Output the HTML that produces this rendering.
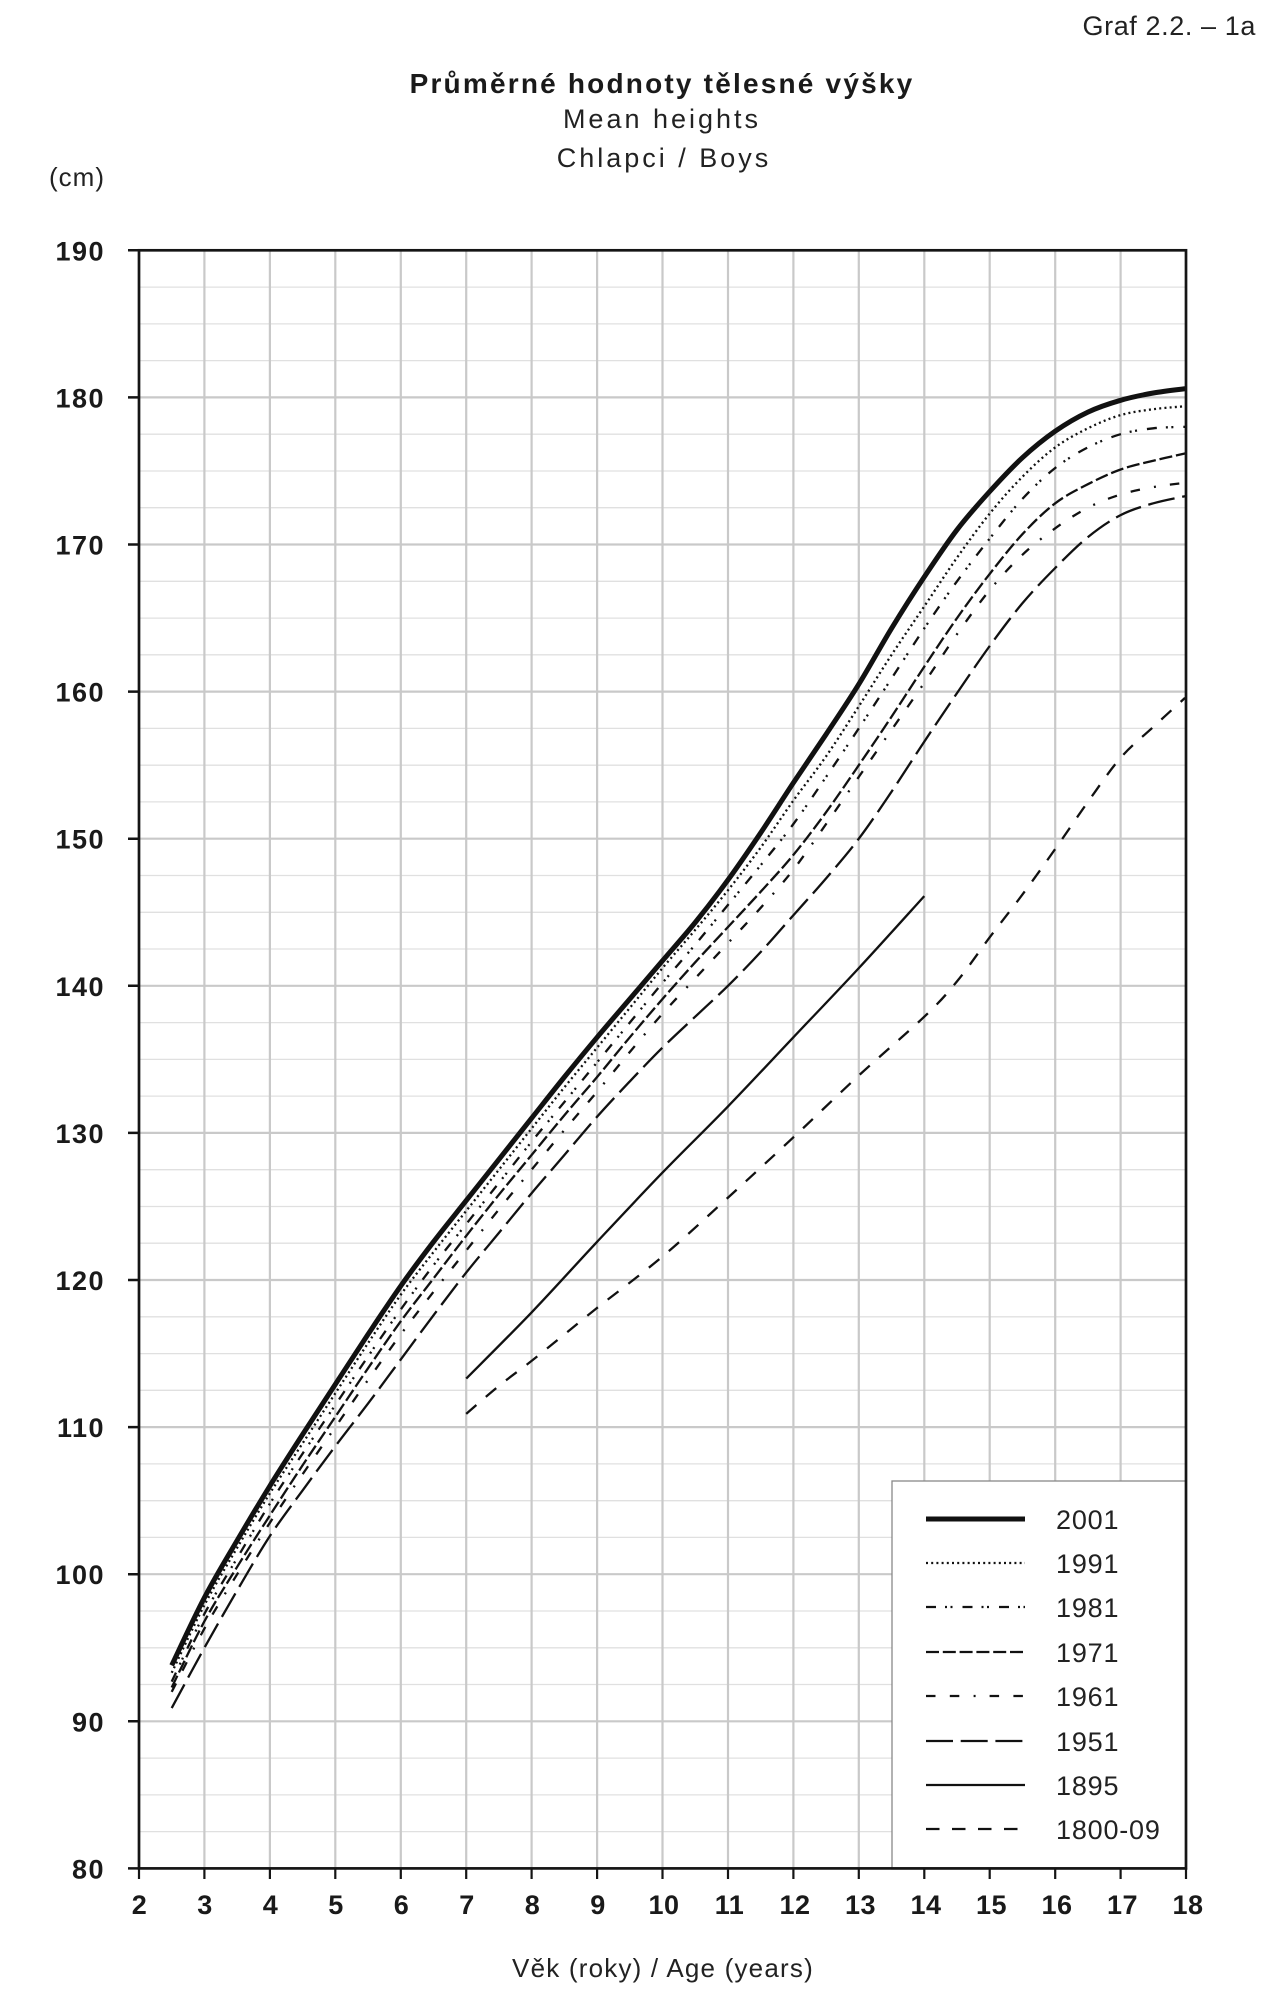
<!DOCTYPE html>
<html><head><meta charset="utf-8"><style>
html,body{margin:0;padding:0;background:#fff;}
svg{display:block;}
text{font-family:"Liberation Sans",Arial,sans-serif;fill:#1a1a1a;}
.yl{font-size:27px;font-weight:bold;text-anchor:end;letter-spacing:1.5px;}
.xl{font-size:27px;font-weight:bold;text-anchor:middle;letter-spacing:0.5px;}
.lg{font-size:27px;letter-spacing:0.8px;fill:#222;}
.c{fill:none;stroke:#111;stroke-width:2.3;stroke-linejoin:round;}
</style></head><body>
<svg id="chart" width="1280" height="2000" viewBox="0 0 1280 2000" xmlns="http://www.w3.org/2000/svg">
<rect width="1280" height="2000" fill="#fff"/>
<!-- titles -->
<text x="1256" y="35" style="font-size:27px;text-anchor:end;letter-spacing:0.6px;fill:#222">Graf 2.2. – 1a</text>
<text x="662" y="93" style="font-size:28px;font-weight:bold;text-anchor:middle;letter-spacing:2.2px">Průměrné hodnoty tělesné výšky</text>
<text x="662" y="128" style="font-size:27px;text-anchor:middle;letter-spacing:3px;fill:#222">Mean heights</text>
<text x="664" y="167" style="font-size:27px;text-anchor:middle;letter-spacing:3px;fill:#222">Chlapci / Boys</text>
<text x="49" y="186" style="font-size:26px;letter-spacing:1px;fill:#222">(cm)</text>

<!-- minor gridlines -->
<path stroke="#e0e0e0" stroke-width="1.3" fill="none" d="
M139 287.1H1186M139 323.9H1186M139 360.6H1186
M139 434.2H1186M139 471.0H1186M139 507.7H1186
M139 581.3H1186M139 618.1H1186M139 654.8H1186
M139 728.4H1186M139 765.2H1186M139 801.9H1186
M139 875.5H1186M139 912.3H1186M139 949.0H1186
M139 1022.6H1186M139 1059.4H1186M139 1096.1H1186
M139 1169.7H1186M139 1206.5H1186M139 1243.2H1186
M139 1316.8H1186M139 1353.6H1186M139 1390.3H1186
M139 1463.9H1186M139 1500.7H1186M139 1537.4H1186
M139 1611.0H1186M139 1647.8H1186M139 1684.5H1186
M139 1758.1H1186M139 1794.9H1186M139 1831.6H1186"/>
<!-- major horizontal gridlines -->
<path stroke="#c9c9c9" stroke-width="2.2" fill="none" d="
M139 397.4H1186M139 544.5H1186M139 691.6H1186M139 838.7H1186M139 985.8H1186
M139 1132.9H1186M139 1280.0H1186M139 1427.1H1186M139 1574.2H1186M139 1721.3H1186"/>
<!-- vertical gridlines -->
<path stroke="#c9c9c9" stroke-width="2.2" fill="none" d="
M204.4 250V1868M269.9 250V1868M335.3 250V1868M400.8 250V1868M466.2 250V1868
M531.6 250V1868M597.1 250V1868M662.5 250V1868M728.0 250V1868M793.4 250V1868
M858.8 250V1868M924.3 250V1868M989.7 250V1868M1055.2 250V1868M1120.6 250V1868"/>

<!-- curves -->
<!-- 1800-09 -->
<polyline class="c" stroke-dasharray="13.5 12.5" points="466.2,1413.9 498.9,1385.9 531.6,1360.9 564.4,1334.4 597.1,1307.9 662.5,1256.5 728.0,1197.6 793.4,1137.3 858.8,1075.5 924.3,1016.7 957.0,981.4 989.7,937.3 1022.4,894.6 1055.2,849.0 1087.9,801.9 1120.6,757.8 1153.3,726.9 1185,697.9"/>
<!-- 1895 -->
<polyline class="c" points="466.2,1378.6 531.6,1312.4 597.1,1241.8 662.5,1172.6 728.0,1106.4 793.4,1037.3 858.8,968.1 924.3,896.1"/>
<!-- 1951 -->
<polyline class="c" stroke-dasharray="27 7.7" points="171.7,1708.1 204.4,1647.8 237.2,1590.4 269.9,1536.0 302.6,1490.4 335.3,1446.2 368.0,1403.6 400.8,1359.4 433.5,1315.3 466.2,1272.6 498.9,1232.9 531.6,1193.2 564.4,1155.0 597.1,1116.7 629.8,1081.4 662.5,1047.6 695.2,1016.7 728.0,985.8 760.7,952.0 793.4,915.2 826.1,878.4 858.8,838.7 891.6,791.6 924.3,741.6 957.0,693.1 989.7,646.0 1022.4,603.3 1055.2,568.0 1087.9,537.1 1120.6,515.1 1153.3,503.3 1186.0,496.0"/>
<!-- 1961 -->
<polyline class="c" stroke-dasharray="9.5 14.3 9.5 14.3 2 14" points="171.7,1691.9 204.4,1628.6 237.2,1574.2 269.9,1522.7 302.6,1474.2 335.3,1427.1 368.0,1380.0 400.8,1334.4 433.5,1291.8 466.2,1250.6 498.9,1209.4 531.6,1169.7 564.4,1130.0 597.1,1091.7 629.8,1052.0 662.5,1013.7 695.2,978.4 728.0,943.1 760.7,907.8 793.4,869.6 826.1,824.0 858.8,776.9 891.6,729.8 924.3,682.8 957.0,634.2 989.7,590.1 1022.4,554.8 1055.2,528.3 1087.9,507.7 1120.6,494.5 1153.3,487.1 1186.0,482.7"/>
<!-- 1971 -->
<polyline class="c" stroke-dasharray="13 3.8" points="171.7,1687.5 204.4,1621.3 237.2,1566.8 269.9,1515.4 302.6,1465.3 335.3,1416.8 368.0,1368.3 400.8,1321.2 433.5,1278.5 466.2,1235.9 498.9,1194.7 531.6,1155.0 564.4,1115.2 597.1,1077.0 629.8,1037.3 662.5,999.0 695.2,962.3 728.0,927.0 760.7,891.7 793.4,854.9 826.1,812.2 858.8,765.2 891.6,716.6 924.3,666.6 957.0,618.1 989.7,573.9 1022.4,534.2 1055.2,503.3 1087.9,484.2 1120.6,469.5 1153.3,460.7 1186.0,453.3"/>
<!-- 1981 -->
<polyline class="c" stroke-dasharray="10 9 2 3.5 2 10" points="171.7,1681.6 204.4,1613.9 237.2,1558.0 269.9,1503.6 302.6,1453.6 335.3,1405.0 368.0,1356.5 400.8,1309.4 433.5,1265.3 466.2,1224.1 498.9,1182.9 531.6,1141.7 564.4,1102.0 597.1,1062.3 629.8,1022.6 662.5,982.9 695.2,944.6 728.0,904.9 760.7,865.2 793.4,824.0 826.1,776.9 858.8,728.4 891.6,678.4 924.3,628.3 957.0,581.3 989.7,538.6 1022.4,498.9 1055.2,468.0 1087.9,447.4 1120.6,434.2 1153.3,428.3 1186.0,426.8"/>
<!-- 1991 -->
<polyline class="c" stroke-dasharray="2 3.2" points="171.7,1672.8 204.4,1605.1 237.2,1547.7 269.9,1493.3 302.6,1443.3 335.3,1393.3 368.0,1343.2 400.8,1294.7 433.5,1252.1 466.2,1210.9 498.9,1169.7 531.6,1128.5 564.4,1087.3 597.1,1047.6 629.8,1007.9 662.5,968.1 695.2,929.9 728.0,890.2 760.7,847.5 793.4,800.5 826.1,756.3 858.8,706.3 891.6,654.8 924.3,606.3 957.0,557.7 989.7,513.6 1022.4,476.8 1055.2,447.4 1087.9,428.3 1120.6,415.1 1153.3,409.2 1186.0,406.2"/>
<!-- 2001 -->
<polyline class="c" style="stroke-width:5" points="171.7,1665.4 204.4,1597.7 237.2,1540.4 269.9,1485.9 302.6,1434.5 335.3,1384.4 368.0,1334.4 400.8,1285.9 433.5,1241.8 466.2,1200.6 498.9,1159.4 531.6,1118.2 564.4,1077.0 597.1,1037.3 629.8,999.0 662.5,960.8 695.2,922.5 728.0,879.9 760.7,832.8 793.4,782.8 826.1,734.3 858.8,684.2 891.6,628.3 924.3,576.9 957.0,529.8 989.7,491.5 1022.4,457.7 1055.2,431.2 1087.9,412.1 1120.6,400.3 1153.3,393.0 1186.0,388.6"/>

<!-- legend -->
<rect x="892" y="1481" width="294" height="388" fill="#fff" stroke="#888" stroke-width="1.3"/>
<line x1="926" y1="1519" x2="1025" y2="1519" stroke="#111" stroke-width="5"/>
<line x1="926" y1="1563" x2="1025" y2="1563" stroke="#111" stroke-width="2.3" stroke-dasharray="2 3.2"/>
<line x1="926" y1="1607" x2="1025" y2="1607" stroke="#111" stroke-width="2.3" stroke-dasharray="10 9 2 3.5 2 10"/>
<line x1="926" y1="1652" x2="1025" y2="1652" stroke="#111" stroke-width="2.3" stroke-dasharray="13 3.8"/>
<line x1="926" y1="1696" x2="1025" y2="1696" stroke="#111" stroke-width="2.3" stroke-dasharray="9.5 14.3 9.5 14.3 2 14"/>
<line x1="926" y1="1741" x2="1025" y2="1741" stroke="#111" stroke-width="2.3" stroke-dasharray="27 7.7"/>
<line x1="926" y1="1785" x2="1025" y2="1785" stroke="#111" stroke-width="2.3"/>
<line x1="926" y1="1829" x2="1025" y2="1829" stroke="#111" stroke-width="2.3" stroke-dasharray="13.5 12.5"/>
<text class="lg" x="1056" y="1529">2001</text>
<text class="lg" x="1056" y="1573">1991</text>
<text class="lg" x="1056" y="1617">1981</text>
<text class="lg" x="1056" y="1662">1971</text>
<text class="lg" x="1056" y="1706">1961</text>
<text class="lg" x="1056" y="1751">1951</text>
<text class="lg" x="1056" y="1795">1895</text>
<text class="lg" x="1056" y="1839">1800-09</text>

<!-- plot border -->
<rect x="139" y="250.3" width="1047" height="1618.1" fill="none" stroke="#151515" stroke-width="2.7"/>
<!-- left ticks -->
<path stroke="#151515" stroke-width="2.5" fill="none" d="
M128 250.3H139M128 397.4H139M128 544.5H139M128 691.6H139M128 838.7H139M128 985.8H139
M128 1132.9H139M128 1280.0H139M128 1427.1H139M128 1574.2H139M128 1721.3H139M128 1868.4H139"/>
<!-- bottom ticks -->
<path stroke="#151515" stroke-width="2.2" fill="none" d="
M139 1868V1879M204.4 1868V1879M269.9 1868V1879M335.3 1868V1879M400.8 1868V1879M466.2 1868V1879
M531.6 1868V1879M597.1 1868V1879M662.5 1868V1879M728.0 1868V1879M793.4 1868V1879M858.8 1868V1879
M924.3 1868V1879M989.7 1868V1879M1055.2 1868V1879M1120.6 1868V1879M1186 1868V1879"/>

<!-- y labels -->
<text class="yl" x="105" y="260.3">190</text>
<text class="yl" x="105" y="407.4">180</text>
<text class="yl" x="105" y="554.5">170</text>
<text class="yl" x="105" y="701.6">160</text>
<text class="yl" x="105" y="848.7">150</text>
<text class="yl" x="105" y="995.8">140</text>
<text class="yl" x="105" y="1142.9">130</text>
<text class="yl" x="105" y="1290.0">120</text>
<text class="yl" x="105" y="1437.1">110</text>
<text class="yl" x="105" y="1584.2">100</text>
<text class="yl" x="105" y="1731.3">90</text>
<text class="yl" x="105" y="1878.4">80</text>

<!-- x labels -->
<text class="xl" x="139.5" y="1914">2</text>
<text class="xl" x="205" y="1914">3</text>
<text class="xl" x="270.5" y="1914">4</text>
<text class="xl" x="336" y="1914">5</text>
<text class="xl" x="401.5" y="1914">6</text>
<text class="xl" x="467" y="1914">7</text>
<text class="xl" x="532.5" y="1914">8</text>
<text class="xl" x="598" y="1914">9</text>
<text class="xl" x="664" y="1914">10</text>
<text class="xl" x="729.5" y="1914">11</text>
<text class="xl" x="795" y="1914">12</text>
<text class="xl" x="860.5" y="1914">13</text>
<text class="xl" x="926" y="1914">14</text>
<text class="xl" x="991.5" y="1914">15</text>
<text class="xl" x="1057" y="1914">16</text>
<text class="xl" x="1122.5" y="1914">17</text>
<text class="xl" x="1188" y="1914">18</text>

<text x="663" y="1977" style="font-size:26px;text-anchor:middle;letter-spacing:1.2px;fill:#222">Věk (roky) / Age (years)</text>
</svg>
<script>
(function(){
  try{
    var NS="http://www.w3.org/2000/svg";
    var pls=document.querySelectorAll("polyline.c");
    for(var k=0;k<pls.length;k++){
      var pl=pls[k];
      var raw=pl.getAttribute("points").trim().split(/\s+/);
      var P=[];
      for(var i=0;i<raw.length;i++){var a=raw[i].split(",");P.push([parseFloat(a[0]),parseFloat(a[1])]);}
      if(P.length<3)continue;
      var d="M"+P[0][0]+" "+P[0][1];
      for(var i=0;i<P.length-1;i++){
        var p0=P[i>0?i-1:i],p1=P[i],p2=P[i+1],p3=P[i+2<P.length?i+2:i+1];
        var c1x=p1[0]+(p2[0]-p0[0])/6,c1y=p1[1]+(p2[1]-p0[1])/6;
        var c2x=p2[0]-(p3[0]-p1[0])/6,c2y=p2[1]-(p3[1]-p1[1])/6;
        d+="C"+c1x.toFixed(2)+" "+c1y.toFixed(2)+" "+c2x.toFixed(2)+" "+c2y.toFixed(2)+" "+p2[0]+" "+p2[1];
      }
      var path=document.createElementNS(NS,"path");
      path.setAttribute("d",d);
      path.setAttribute("class","c");
      if(pl.getAttribute("stroke-dasharray"))path.setAttribute("stroke-dasharray",pl.getAttribute("stroke-dasharray"));
      if(pl.getAttribute("style"))path.setAttribute("style",pl.getAttribute("style"));
      pl.parentNode.replaceChild(path,pl);
    }
  }catch(e){}
})();
</script>
</body></html>
